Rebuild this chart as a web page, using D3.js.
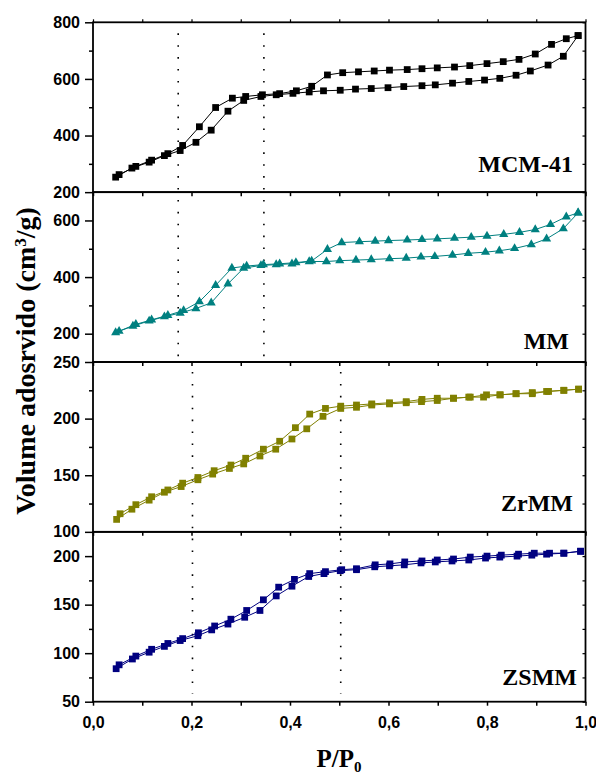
<!DOCTYPE html>
<html>
<head>
<meta charset="utf-8">
<script src="https://cdn.jsdelivr.net/npm/d3@7/dist/d3.min.js"></script>
<style>
  body { margin: 0; background: #fff; }
  svg { display: block; }
  .tick text { font-family: "Liberation Sans", Arial, sans-serif; font-weight: bold; font-size: 16px; fill: #000; }
</style>
</head>
<body>
<svg id="chart" width="596" height="774"></svg>
<script>
// ---------------- DATA ----------------
const sampleNames = ["MCM-41", "MM", "ZrMM", "ZSMM"];

const mcmAdsX = [0.046,0.079,0.114,0.145,0.177,0.209,0.240,0.274,0.306,0.341,0.372,0.406,0.439,0.468,0.502,0.533,0.565,0.599,0.631,0.668,0.695,0.730,0.763,0.795,0.826,0.859,0.888,0.924,0.955,0.985];
const mcmAdsY = [253,285,306,329,347,376,419,486,524,538,544,549,554,558,560,564,566,569,573,576,579,585,591,596,602,613,628,649,680,753];
const mcmDesX = [0.985,0.961,0.931,0.898,0.865,0.833,0.800,0.765,0.734,0.699,0.668,0.638,0.602,0.571,0.539,0.507,0.476,0.444,0.413,0.379,0.344,0.310,0.283,0.249,0.216,0.182,0.152,0.119,0.087,0.053];
const mcmDesY = [753,742,722,688,669,661,654,647,642,639,636,633,631,628,625,622,614,574,558,548,544,538,532,499,431,365,336,313,291,262];

const mmAdsX = [0.046,0.081,0.114,0.145,0.177,0.209,0.240,0.274,0.306,0.341,0.372,0.404,0.439,0.474,0.501,0.534,0.565,0.602,0.636,0.666,0.694,0.730,0.762,0.797,0.825,0.856,0.890,0.921,0.955,0.985];
const mmAdsY = [204,227,245,260,273,289,309,376,432,441,444,447,455,455,458,460,462,465,467,471,473,478,484,488,493,501,515,535,571,627];
const mmDesX = [0.985,0.961,0.929,0.898,0.866,0.834,0.800,0.768,0.734,0.699,0.668,0.638,0.600,0.573,0.541,0.505,0.476,0.444,0.412,0.379,0.346,0.312,0.282,0.249,0.216,0.184,0.152,0.119,0.087,0.053];
const mmDesY = [627,613,586,568,558,551,545,541,538,535,533,531,529,527,525,522,498,457,451,447,444,439,432,371,313,282,265,249,233,209];

const zrAdsX = [0.048,0.079,0.114,0.145,0.179,0.213,0.243,0.277,0.306,0.339,0.371,0.404,0.434,0.467,0.503,0.535,0.566,0.602,0.636,0.667,0.699,0.732,0.763,0.793,0.826,0.859,0.892,0.921,0.956,0.986];
const zrAdsY = [111,120,128,135,140,146,151,156,160,167,173,182,191,202,209,210,212,213,214,215,216,218,219,219,221,222,222,224,225,226];
const zrDesX = [0.986,0.956,0.925,0.892,0.859,0.827,0.799,0.766,0.732,0.699,0.668,0.636,0.602,0.566,0.535,0.503,0.472,0.440,0.411,0.379,0.346,0.310,0.280,0.246,0.213,0.182,0.152,0.119,0.087,0.055];
const zrDesY = [226,225,224,223,222,221,221,219,218,218,217,215,214,213,212,211,209,204,192,180,173,165,159,154,148,143,137,131,124,116];

const zsAdsX = [0.047,0.080,0.114,0.145,0.177,0.213,0.241,0.274,0.308,0.339,0.372,0.404,0.438,0.469,0.502,0.535,0.572,0.602,0.632,0.666,0.695,0.729,0.763,0.797,0.826,0.861,0.891,0.921,0.956,0.990];
const zsAdsY = [84,94,101,107,113,118,124,130,137,144,159,169,179,182,185,186,189,190,191,193,194,195,196,198,199,200,201,202,203,205];
const zsDesX = [0.990,0.956,0.927,0.896,0.864,0.829,0.800,0.766,0.732,0.699,0.668,0.633,0.603,0.573,0.535,0.505,0.472,0.440,0.409,0.377,0.346,0.312,0.280,0.247,0.214,0.182,0.152,0.119,0.087,0.053];
const zsDesY = [205,203,203,203,202,201,200,199,197,196,195,194,192,191,187,186,184,182,176,168,155,144,135,128,121,115,110,104,97,88];

const xMajorTicks = [0.0,0.2,0.4,0.6,0.8,1.0];
const xMinorTicks = [0.1,0.3,0.5,0.7,0.9];

const yDomains = [[200,800],[100,700],[100,250],[50,225]];
const yMajorTicks = [[200,400,600,800],[200,400,600],[100,150,200,250],[50,100,150,200]];
const yMinorTicks = [[300,500,700],[300,500],[125,175,225],[75,125,175]];

// dotted guide lines (P/P0), for panel pairs 1-2 and 3-4
const guideXTop = [0.173,0.347];
const guideXBottom = [0.202,0.503];

// ---------------- LAYOUT ----------------
const left = 93, right = 585.5, top0 = 22.3, panelH = 169.85;
const colors = ["#000000","#008080","#808000","#000080"];
const symbols = [d3.symbolSquare, d3.symbolTriangle, d3.symbolSquare, d3.symbolSquare];
const symSizes = [46, 36, 46, 46];
const labelBaselineOffsets = [20.5, 13.5, 21, 17];
const labelRight = [573, 569, 573, 577];

const svg = d3.select("#chart");
const x = d3.scaleLinear().domain([0,1]).range([left,right]);
const fmtX = v => d3.format(".1f")(v).replace(".", ",");

const series = [
  [mcmAdsX, mcmAdsY, mcmDesX, mcmDesY],
  [mmAdsX, mmAdsY, mmDesX, mmDesY],
  [zrAdsX, zrAdsY, zrDesX, zrDesY],
  [zsAdsX, zsAdsY, zsDesX, zsDesY]
];

// dotted guides
function guides(xs, yTop, yBot) {
  svg.append("g").selectAll("line").data(xs).join("line")
    .attr("x1", d => x(d)).attr("x2", d => x(d))
    .attr("y1", yTop).attr("y2", yBot)
    .attr("stroke", "#000").attr("stroke-width", 1.6)
    .attr("stroke-dasharray", "1.6,10.3");
}
guides(guideXTop, top0 + 11, top0 + 2*panelH - 5);
guides(guideXBottom, top0 + 2*panelH + 10, top0 + 4*panelH - 8);

series.forEach((s, i) => {
  const y0 = top0 + i*panelH, y1 = y0 + panelH;
  const y = d3.scaleLinear().domain(yDomains[i]).range([y1, y0]);
  const g = svg.append("g");
  const [ax, ay, dx, dy] = s;
  const ads = ax.map((v, k) => [v, ay[k]]);
  const des = dx.map((v, k) => [v, dy[k]]);
  const line = d3.line().x(d => x(d[0])).y(d => y(d[1]));
  [ads, des].forEach(arr => {
    g.append("path").datum(arr).attr("d", line)
      .attr("fill", "none").attr("stroke", colors[i]).attr("stroke-width", 1);
    g.append("g").selectAll("path").data(arr).join("path")
      .attr("transform", d => `translate(${x(d[0])},${y(d[1])})`)
      .attr("d", d3.symbol().type(symbols[i]).size(symSizes[i]))
      .attr("fill", colors[i]);
  });

  // left axis major + minor
  g.append("g").attr("transform", `translate(${left},0)`)
    .call(d3.axisLeft(y).tickValues(yMajorTicks[i]).tickSize(8).tickPadding(5).tickFormat(d3.format("d")))
    .call(a => a.select(".domain").remove())
    .call(a => a.selectAll("line").attr("stroke-width", 1.5));
  g.append("g").attr("transform", `translate(${left},0)`)
    .call(d3.axisLeft(y).tickValues(yMinorTicks[i]).tickSize(4).tickFormat(""))
    .call(a => a.select(".domain").remove())
    .call(a => a.selectAll("line").attr("stroke-width", 1.5));
  // right ticks (inward)
  g.append("g").attr("transform", `translate(${right},0)`)
    .call(d3.axisLeft(y).tickValues(yMajorTicks[i].concat(yMinorTicks[i])).tickSize(3).tickFormat(""))
    .call(a => a.select(".domain").remove())
    .call(a => a.selectAll("line").attr("stroke-width", 1.2));
  // bottom ticks
  const isLast = i === series.length - 1;
  g.append("g").attr("transform", `translate(0,${y1})`)
    .call(d3.axisBottom(x).tickValues(xMajorTicks.concat(xMinorTicks)).tickSize(4).tickPadding(11)
      .tickFormat(d => (isLast && xMajorTicks.includes(d)) ? fmtX(d) : ""))
    .call(a => a.select(".domain").remove())
    .call(a => a.selectAll("line").attr("stroke-width", 1.5));
  if (i === 0) {
    g.append("g").attr("transform", `translate(0,${y0})`)
      .call(d3.axisTop(x).tickValues(xMajorTicks.concat(xMinorTicks)).tickSize(3).tickFormat(""))
      .call(a => a.select(".domain").remove())
      .call(a => a.selectAll("line").attr("stroke-width", 1.2));
  }
  // frame
  g.append("rect").attr("x", left).attr("y", y0).attr("width", right - left).attr("height", panelH)
    .attr("fill", "none").attr("stroke", "#000").attr("stroke-width", 1.8);

  // sample label
  g.append("text").attr("x", labelRight[i]).attr("y", y1 - labelBaselineOffsets[i])
    .attr("text-anchor", "end")
    .style("font-family", "'Liberation Serif', 'Times New Roman', serif")
    .style("font-weight", "bold").style("font-size", "24px")
    .text(sampleNames[i]);
});

// Y title
svg.append("text")
  .attr("transform", `translate(35,${361}) rotate(-90)`)
  .attr("text-anchor", "middle")
  .style("font-family", "'Liberation Serif', 'Times New Roman', serif")
  .style("font-weight", "bold").style("font-size", "28px")
  .html("Volume adosrvido (cm<tspan dy='-9' font-size='17px'>3</tspan><tspan dy='9'>/g)</tspan>");

// X title
const xt = svg.append("text").attr("x", 316.5).attr("y", 766.5)
  .style("font-family", "'Liberation Serif', 'Times New Roman', serif")
  .style("font-weight", "bold").style("font-size", "25px");
xt.append("tspan").text("P/P");
xt.append("tspan").attr("dy", 5).style("font-size", "15px").text("0");
</script>
</body>
</html>
